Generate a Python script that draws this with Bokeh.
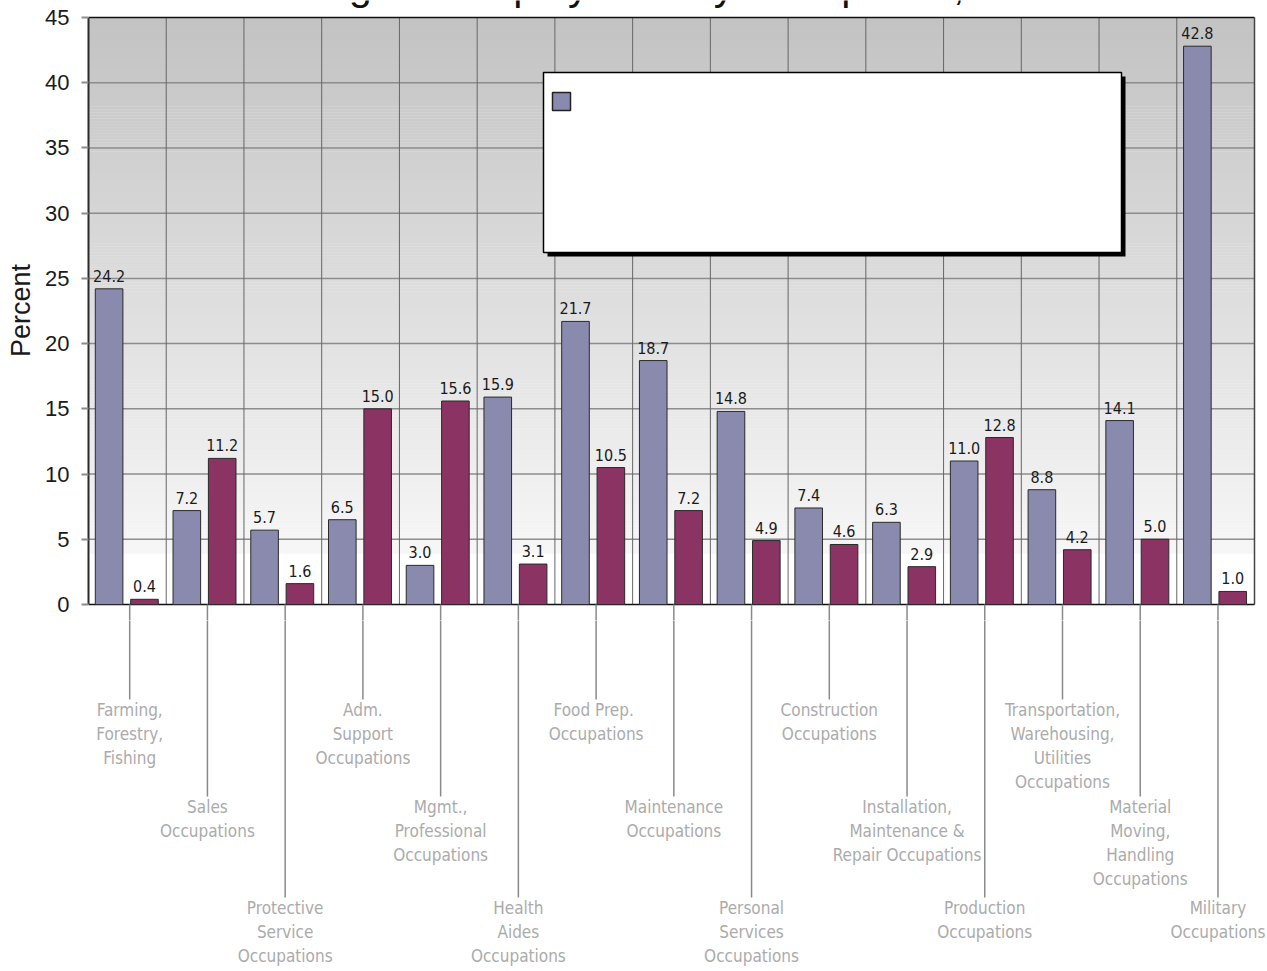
import numpy as np
from bokeh.plotting import figure
from bokeh.layouts import column
from bokeh.models import Range1d, FixedTicker
from bokeh.core.properties import value
from bokeh.embed import file_html
from bokeh.resources import INLINE

# ---- data -------------------------------------------------------------
occupations = [
    "Farming,\nForestry,\nFishing",
    "Sales\nOccupations",
    "Protective\nService\nOccupations",
    "Adm.\nSupport\nOccupations",
    "Mgmt.,\nProfessional\nOccupations",
    "Health\nAides\nOccupations",
    "Food  Prep.\nOccupations",
    "Maintenance\nOccupations",
    "Personal\nServices\nOccupations",
    "Construction\nOccupations",
    "Installation,\nMaintenance &\nRepair Occupations",
    "Production\nOccupations",
    "Transportation,\nWarehousing,\nUtilities\nOccupations",
    "Material\nMoving,\nHandling\nOccupations",
    "Military\nOccupations",
]
series_a = [24.2, 7.2, 5.7, 6.5, 3.0, 15.9, 21.7, 18.7, 14.8, 7.4, 6.3, 11.0, 8.8, 14.1, 42.8]
series_b = [0.4, 11.2, 1.6, 15.0, 15.6, 3.1, 10.5, 7.2, 4.9, 4.6, 2.9, 12.8, 4.2, 5.0, 1.0]
y_ticks = [0, 5, 10, 15, 20, 25, 30, 35, 40, 45]
title_text = "Percentage of Employment by Occupation, 2000"

# ---- layout constants -------------------------------------------------
W, H = 1267, 971
LEFT = 88
BAND_PX = (1254 - LEFT) / 15.0
PX_PER_UNIT = (604 - 17) / 45.0
TOP_H = 620                      # chart panel; the label strip sits below it
N = len(occupations)
x_end = (W - LEFT) / BAND_PX
y_top = 45 + 17 / PX_PER_UNIT
y_split = -(TOP_H - 604) / PX_PER_UNIT
y_bot = -(H - 604) / PX_PER_UNIT

CAT_FONT = value("DejaVu Sans Condensed")
VAL_FONT = value("DejaVu Sans Condensed")
CAT_SIZE = 17
BLUE = "#8a8aae"
MAROON = "#8b3363"


def px_x(px):
    return (px - LEFT) / BAND_PX


def px_y(py):
    return y_top - py / PX_PER_UNIT


x_range = Range1d(0, x_end)
p = figure(width=W, height=TOP_H, x_range=x_range, y_range=Range1d(y_split, y_top),
           output_backend="svg", toolbar_location=None,
           min_border_left=LEFT, min_border_right=0, min_border_top=0, min_border_bottom=0)
p.xaxis.visible = False
p.grid.visible = False
p.outline_line_color = None
p.background_fill_color = "white"
p.border_fill_color = "white"

# y axis
ax = p.yaxis[0]
ax.bounds = (0, 45)
ax.ticker = FixedTicker(ticks=y_ticks)
ax.minor_tick_line_color = None
ax.axis_line_color = "#2a2a2a"
ax.axis_line_width = 2
ax.major_tick_in = 0
ax.major_tick_out = 7
ax.major_tick_line_color = "#8c8c8c"
ax.major_tick_line_width = 2
ax.major_label_text_font = "Liberation Sans"
ax.major_label_text_font_size = "22px"
ax.major_label_text_color = "#1a1a1a"
ax.major_label_standoff = 12
ax.axis_label = "Percent"
ax.axis_label_text_font = "Liberation Sans"
ax.axis_label_text_font_style = "normal"
ax.axis_label_text_font_size = "27px"
ax.axis_label_text_color = "#1a1a1a"
ax.axis_label_standoff = 6

# plot-area shading: grey at the top fading to white near the baseline
n_strips = 180
edges = np.linspace(3.9, 45, n_strips + 1)
mid = (edges[:-1] + edges[1:]) / 2
shade = 195 + (247 - 195) * (45 - mid) / (45 - 3.9)
strip_colors = ["#%02x%02x%02x" % (int(s), int(s), int(s)) for s in shade]
p.quad(left=0, right=N, bottom=edges[:-1], top=edges[1:] + 0.03,
       fill_color=strip_colors, line_color=None)

# horizontal grid lines
grid_y = y_ticks[1:-1]
p.segment(x0=[0] * len(grid_y), y0=grid_y, x1=[N] * len(grid_y), y1=grid_y,
          line_color="#8c8c8c", line_width=1.5)
# band dividers
div_x = list(range(1, N))
p.segment(x0=div_x, y0=[0] * len(div_x), x1=div_x, y1=[45] * len(div_x),
          line_color="#666666", line_width=1)
# frame: top, right, baseline
p.segment(x0=[0, N, 0], y0=[45, 0, 0], x1=[N, N, N], y1=[45, 45, 0],
          line_color=["#111111", "#444444", "#111111"], line_width=[1.5, 1.5, 1.5])

# bars
idx = np.arange(N)
xa = idx + 0.265
xb = idx + 0.72
p.vbar(x=xa, width=0.355, bottom=0, top=series_a, fill_color=BLUE,
       line_color="#2a2a2a", line_width=1)
p.vbar(x=xb, width=0.355, bottom=0, top=series_b, fill_color=MAROON,
       line_color="#2a2a2a", line_width=1)

# value labels
for xs, vals in ((xa, series_a), (xb, series_b)):
    p.text(x=xs, y=vals, text=[f"{v:.1f}" for v in vals], text_align="center",
           text_baseline="bottom", y_offset=-7, text_font=VAL_FONT,
           text_font_size="16px", text_color="#1a1a1a")

# legend panel with drop shadow and swatch
p.quad(left=[px_x(547)], right=[px_x(1125)], top=[px_y(76)], bottom=[px_y(256)],
       fill_color="black", line_color=None)
p.quad(left=[px_x(543)], right=[px_x(1121)], top=[px_y(72)], bottom=[px_y(252)],
       fill_color="white", line_color="black", line_width=1.5)
p.quad(left=[px_x(552)], right=[px_x(570)], top=[px_y(92)], bottom=[px_y(110)],
       fill_color=BLUE, line_color="#222222", line_width=1.5)

# title, sitting at the very top edge
p.text(x=[px_x(184.5)], y=[px_y(8)], text=[title_text], text_align="left",
       text_baseline="bottom", text_font=value("Liberation Sans"),
       text_font_size="41px", text_color="#111111")

# ---- staggered category labels with leader lines ----------------------
# the column layout lines this strip's frame up with the chart frame above
q = figure(width=W, height=H - TOP_H, x_range=x_range,
           y_range=Range1d(y_bot, y_split), output_backend="svg", toolbar_location=None,
           min_border_left=LEFT, min_border_right=0, min_border_top=0, min_border_bottom=0)
q.axis.visible = False
q.grid.visible = False
q.outline_line_color = None
q.background_fill_color = "white"
q.border_fill_color = "white"

level_px = [699, 796, 897]
level_y = [-(lp - 604) / PX_PER_UNIT for lp in level_px]
lab_x = idx + 0.53
lab_y = [level_y[i % 3] for i in range(N)]
for fig in (p, q):
    fig.segment(x0=lab_x, y0=[0] * N, x1=lab_x, y1=lab_y,
                line_color="#8a8a8a", line_width=1.5)
q.text(x=lab_x, y=lab_y, text=occupations, text_align="center", text_baseline="top",
       text_font=CAT_FONT, text_font_size=f"{CAT_SIZE}px",
       text_line_height=24 / (CAT_SIZE * 1.164), text_color="#ababab")

open("out.html", "w").write(file_html(column(p, q), INLINE))
